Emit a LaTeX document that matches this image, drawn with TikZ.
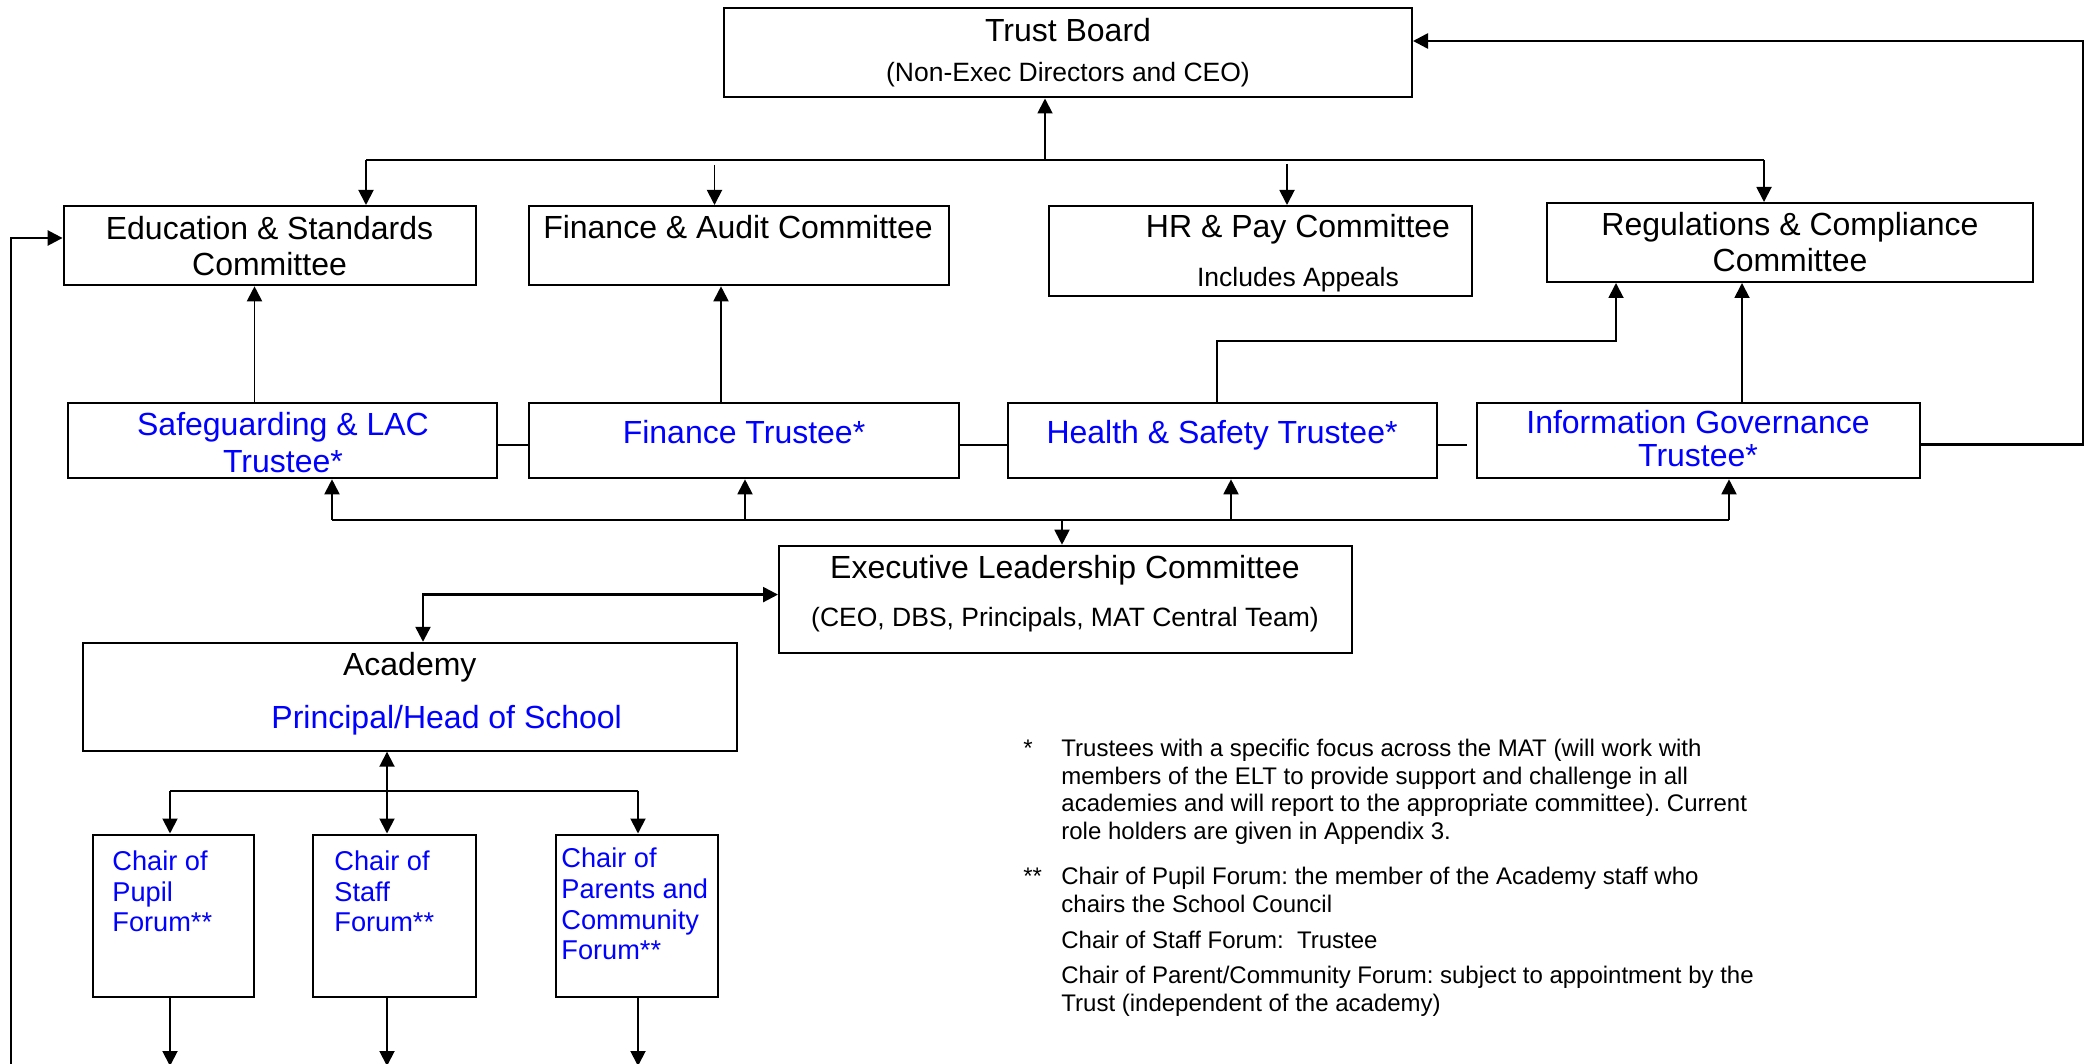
\documentclass[tikz,border=0pt]{standalone}
\usepackage{fontspec}
\setmainfont{Liberation Sans}
\usetikzlibrary{arrows.meta,fit}
\frenchspacing
\newcommand\fmain{\fontsize{16}{19}\selectfont}
\newcommand\fsubt{\fontsize{13.25}{16}\selectfont}
\newcommand\fforum{\fontsize{13.6}{15}\selectfont}
\newcommand\fnote{\fontsize{12}{14}\selectfont}
\definecolor{lblue}{RGB}{0,0,255}
\begin{document}
\begin{tikzpicture}[x=0.5pt,y=-0.5pt,
  box/.style={draw, line width=1pt, inner sep=0pt},
  conn/.style={line width=0.95pt},
  arr/.style={conn, -{Triangle[length=7.5pt,width=7.5pt]}},
  thickarr/.style={line width=1.3pt, -{Triangle[length=7.5pt,width=7.5pt]}},
  thickdarr/.style={line width=1.2pt, {Triangle[length=7.5pt,width=7.5pt]}-{Triangle[length=7.5pt,width=7.5pt]}},
  tm/.style={inner sep=0pt, anchor=base, font=\fmain},
  ts/.style={inner sep=0pt, anchor=base, font=\fsubt},
  tb/.style={tm, text=lblue},
  tf/.style={inner sep=0pt, anchor=base west, font=\fforum, text=lblue},
  tn/.style={inner sep=0pt, anchor=base west, font=\fnote}]
\useasboundingbox (0,0) rectangle (2085,1064);

% boxes
\node[box, fit={(724,8) (1412,97.5)}] (tbd) {};
\node[box, fit={(63.6,206) (475.5,285.3)}] (edu) {};
\node[box, fit={(529,206) (949,285.3)}] (fa) {};
\node[box, fit={(1049,206) (1472,296)}] (hr) {};
\node[box, fit={(1547,203) (2033,282)}] (rc) {};
\node[box, fit={(68,403) (497,478.3)}] (sg) {};
\node[box, fit={(529,403) (959,478.3)}] (ft) {};
\node[box, fit={(1008,403) (1437,478.3)}] (hs) {};
\node[box, fit={(1477,403) (1920,478.3)}] (ig) {};
\node[box, fit={(779,545.7) (1351.5,653)}] (elc) {};
\node[box, fit={(83,642.8) (736.6,750.7)}] (ac) {};
\node[box, fit={(92.5,834.5) (253.8,996.8)}] (pf) {};
\node[box, fit={(313,834.5) (475.8,996.8)}] (sf) {};
\node[box, fit={(556,834.5) (718,996.8)}] (cf) {};

% texts
\node[tm] (tbt1) at (1068,42) {Trust Board};
\node[ts] (tbt2) at (1068,82) {(Non-Exec Directors and CEO)};
\node[tm] (edut1) at (269.5,239.3) {Education \& Standards};
\node[tm] (edut2) at (269.5,275.3) {Committee};
\node[tm] (fat) at (738,239) {Finance \& Audit Committee};
\node[tm] (hrt1) at (1298,238) {HR \& Pay Committee};
\node[ts] (hrt2) at (1298,286.7) {Includes Appeals};
\node[tm] (rct1) at (1790,235.7) {Regulations \& Compliance};
\node[tm] (rct2) at (1790,271.7) {Committee};
\node[tb] (sgt1) at (283,435.7) {Safeguarding \& LAC};
\node[tb] (sgt2) at (283,472.5) {Trustee*};
\node[tb] (ftt) at (744,443.3) {Finance Trustee*};
\node[tb] (hst) at (1222,443.3) {Health \& Safety Trustee*};
\node[tb] (igt1) at (1698,434) {Information Governance};
\node[tb] (igt2) at (1698,466.7) {Trustee*};
\node[tm] (elct1) at (1065,578.4) {Executive Leadership Committee};
\node[ts] (elct2) at (1065,626.6) {(CEO, DBS, Principals, MAT Central Team)};
\node[tm] (act1) at (409.8,675.2) {Academy};
\node[tb] (act2) at (446.7,728.4) {Principal/Head of School};

\node[tf] (pft1) at (112,870.5) {Chair of};
\node[tf] (pft2) at (112,901) {Pupil};
\node[tf] (pft3) at (112,931.7) {Forum**};
\node[tf] (sft1) at (334,870.5) {Chair of};
\node[tf] (sft2) at (334,901) {Staff};
\node[tf] (sft3) at (334,931.7) {Forum**};
\node[tf] (cft1) at (561,867.6) {Chair of};
\node[tf] (cft2) at (561,898.6) {Parents and};
\node[tf] (cft3) at (561,929.8) {Community};
\node[tf] (cft4) at (561,959.7) {Forum**};

% notes
\node[tn] (n1s) at (1023,756.5) {*};
\node[tn] (n1a) at (1061,756.5) {Trustees with a specific focus across the MAT (will work with};
\node[tn] (n1b) at (1061,784) {members of the ELT to provide support and challenge in all};
\node[tn] (n1c) at (1061,811.7) {academies and will report to the appropriate committee). Current};
\node[tn] (n1d) at (1061,839.5) {role holders are given in Appendix 3.};
\node[tn] (n2s) at (1023,884) {**};
\node[tn] (n2a) at (1061,884) {Chair of Pupil Forum: the member of the Academy staff who};
\node[tn] (n2b) at (1061,912) {chairs the School Council};
\node[tn] (n2c) at (1061,948) {Chair of Staff Forum:\ \ Trustee};
\node[tn] (n2d) at (1061,983) {Chair of Parent/Community Forum: subject to appointment by the};
\node[tn] (n2e) at (1061,1011) {Trust (independent of the academy)};

% top bus
\coordinate (busL) at (366,160);
\coordinate (busR) at (1764,160);
\coordinate (busT) at (1045,160);
\coordinate (busF) at (714.5,160);
\coordinate (busH) at (1287,160);
\draw[conn] (busL) -- (busR);
\draw[arr] (busT) -- (busT |- tbd.south);
\draw[arr] (busL) -- (busL |- edu.north);
\draw[arr, shorten <=2.5pt] (busF) -- (busF |- fa.north);
\draw[arr, shorten <=2pt] (busH) -- (busH |- hr.north);
\draw[arr] (busR) -- (busR |- rc.north);

% feedback to trust board
\coordinate (fbT) at (2083,41);
\draw[thickarr] ([yshift=-2pt]ig.east) -| (fbT) -- (fbT -| tbd.east);

% left feedback
\coordinate (lfb) at (11,1070);
\coordinate (lfbT) at (11,238);
\draw[thickarr] (lfb) -- (lfbT) -- (lfbT -| edu.west);

% trustees to committees
\coordinate (vSG) at (254.5,0);
\coordinate (vFT) at (721,0);
\coordinate (vIG) at (1742,0);
\coordinate (hsA) at (1217,340.7);
\coordinate (hsB) at (1616,340.7);
\draw[arr] (vSG |- sg.north) -- (vSG |- edu.south);
\draw[arr] (vFT |- ft.north) -- (vFT |- fa.south);
\draw[arr] (vIG |- ig.north) -- (vIG |- rc.south);
\draw[arr] (hsA |- hs.north) -- (hsA) -- (hsB) -- (hsB |- rc.south);

% links between trustees
\draw[conn] ([yshift=-2pt]sg.east) -- ([yshift=-2pt]ft.west);
\draw[conn] ([yshift=-2pt]ft.east) -- ([yshift=-2pt]hs.west);
\draw[conn, shorten >=4.5pt] ([yshift=-2pt]hs.east) -- ([yshift=-2pt]ig.west);

% bottom bus
\coordinate (bbL) at (332,519.8);
\coordinate (bbR) at (1729,519.8);
\coordinate (bbF) at (745,519.8);
\coordinate (bbH) at (1231,519.8);
\coordinate (bbE) at (1062,519.8);
\draw[conn] (bbL) -- (bbR);
\draw[arr] (bbL) -- (bbL |- sg.south);
\draw[arr] (bbF) -- (bbF |- ft.south);
\draw[arr] (bbH) -- (bbH |- hs.south);
\draw[arr] (bbR) -- (bbR |- ig.south);
\draw[arr] (bbE) -- (bbE |- elc.north);

% academy - ELC
\coordinate (ae) at (423,594.6);
\draw[thickdarr] (ae |- ac.north) -- (ae) -- (ae -| elc.west);

% academy - forums
\coordinate (fbC) at (387,790.6);
\coordinate (fbL) at (170,790.6);
\coordinate (fbR) at (638,790.6);
\draw[conn] (fbL) -- (fbR);
\draw[arr] (fbC) -- (fbC |- ac.south);
\draw[arr] (fbC) -- (fbC |- sf.north);
\draw[arr] (fbL) -- (fbL |- pf.north);
\draw[arr] (fbR) -- (fbR |- cf.north);

% forum down arrows
\coordinate (dL) at (170,1066);
\coordinate (dC) at (387,1066);
\coordinate (dR) at (638,1066);
\draw[arr] (dL |- pf.south) -- (dL);
\draw[arr] (dC |- sf.south) -- (dC);
\draw[arr] (dR |- cf.south) -- (dR);
\end{tikzpicture}
\end{document}
